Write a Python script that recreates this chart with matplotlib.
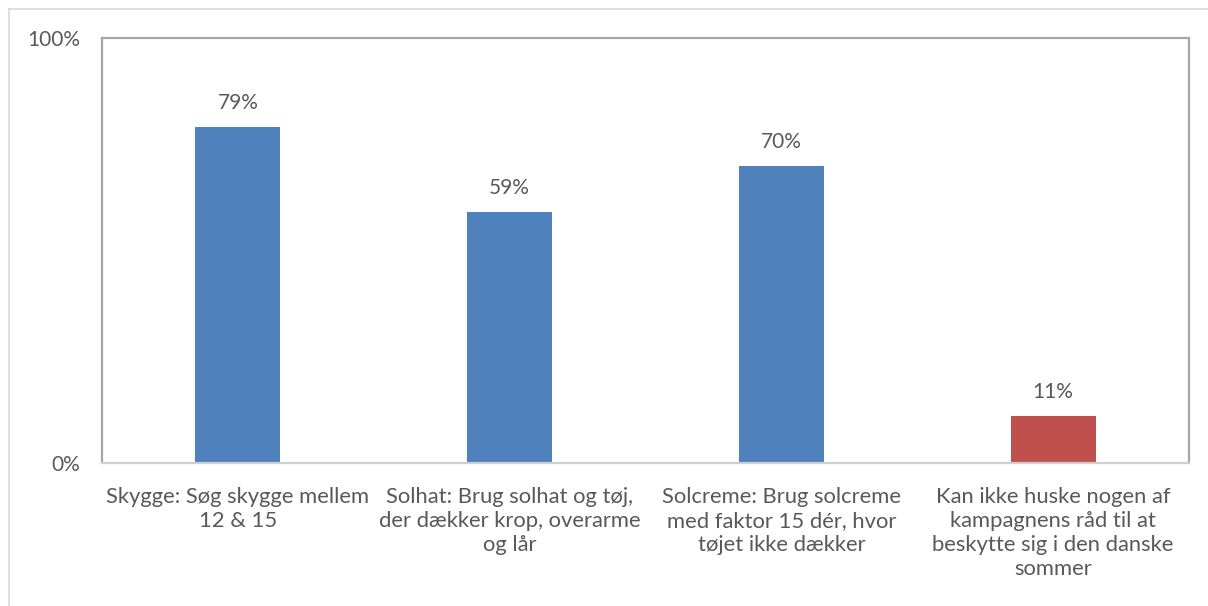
import matplotlib
matplotlib.use("Agg")
import matplotlib.pyplot as plt
from matplotlib.lines import Line2D

# data
categories = [
    "Skygge: Søg skygge mellem\n12 & 15",
    "Solhat: Brug solhat og tøj,\nder dækker krop, overarme\nog lår",
    "Solcreme: Brug solcreme\nmed faktor 15 dér, hvor\ntøjet ikke dækker",
    "Kan ikke huske nogen af\nkampagnens råd til at\nbeskytte sig i den danske\nsommer",
]
values = [79, 59, 70, 11]
bar_colors = ["#4F81BD", "#4F81BD", "#4F81BD", "#C0504D"]

plt.rcParams["font.family"] = ["Lato", "DejaVu Sans"]
text_color = "#595959"

fig = plt.figure(figsize=(12.08, 6.06), dpi=100)
ax = fig.add_axes([102 / 1208, 1 - 463 / 606, (1189 - 102) / 1208, (463 - 38) / 606])

x = range(len(values))
bars = ax.bar(x, values, width=0.313, color=bar_colors)
for b, v in zip(bars, values):
    ax.annotate(f"{v}%", (b.get_x() + b.get_width() / 2, v), xytext=(0, 10),
                textcoords="offset points", ha="center", va="bottom",
                fontsize=15, color=text_color)

ax.set_xlim(-0.5, len(values) - 0.5)
ax.set_ylim(0, 100)
ax.set_yticks([0, 100])
ax.set_yticklabels(["0%", "100%"])
ax.set_xticks(list(x))
ax.set_xticklabels(categories, fontsize=15.8, color=text_color, linespacing=1.25)
ax.tick_params(axis="y", length=0, pad=16, labelsize=15, labelcolor=text_color)
ax.tick_params(axis="x", length=0, pad=17)

for side in ["left", "top", "right"]:
    ax.spines[side].set_color("#a6a6a6")
    ax.spines[side].set_linewidth(1.6)
ax.spines["bottom"].set_color("#d0d0d0")
ax.spines["bottom"].set_linewidth(1.6)

# outer chart border (top and left visible)
fig.add_artist(Line2D([9 / 1208, 1], [1 - 9 / 606, 1 - 9 / 606], color="#d9d9d9", lw=1.2))
fig.add_artist(Line2D([9 / 1208, 9 / 1208], [0, 1 - 9 / 606], color="#d9d9d9", lw=1.2))

fig.savefig("out.png", dpi=100)
